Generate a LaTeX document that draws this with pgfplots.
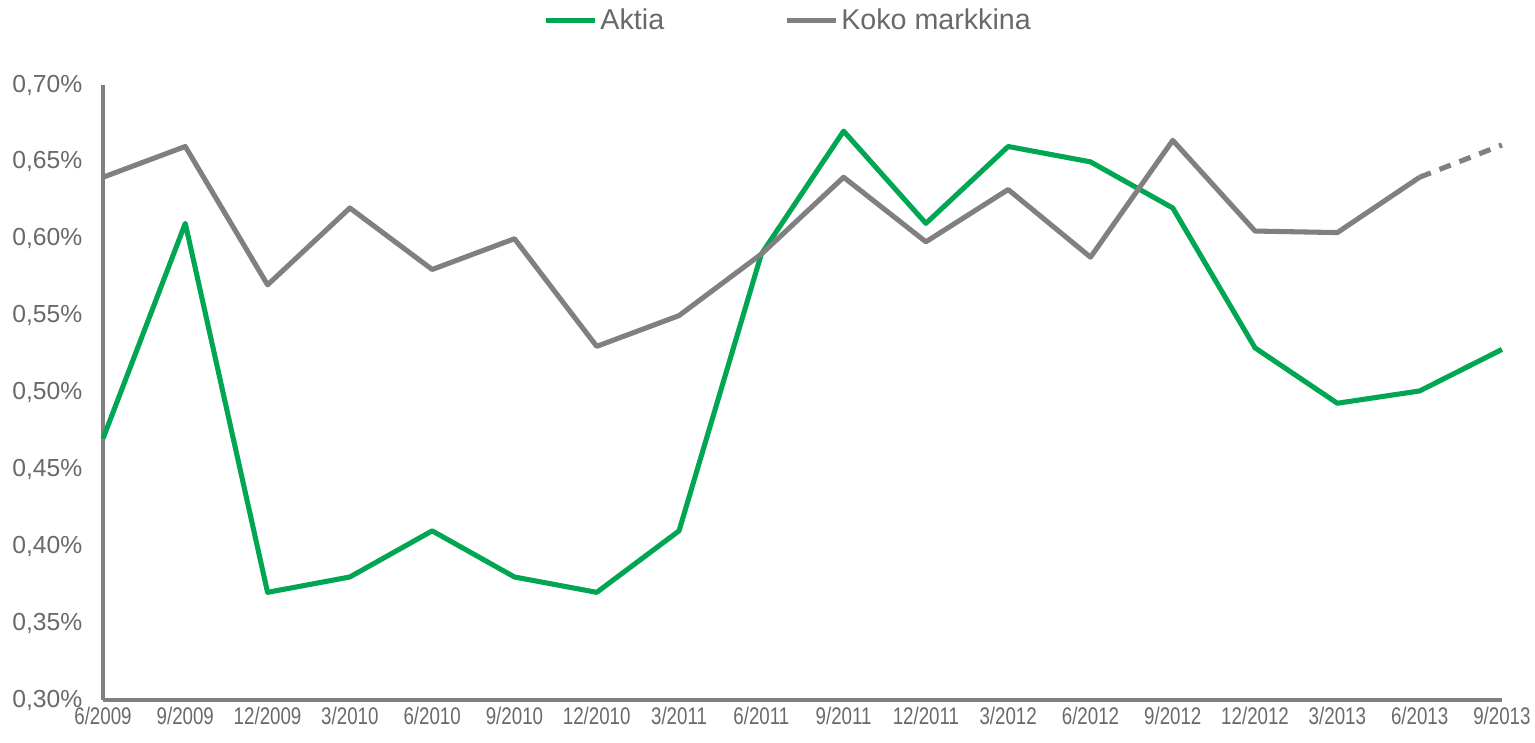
\documentclass[border=0pt]{standalone}
\usepackage{fontspec}
\setmainfont{Liberation Sans}
\usepackage{graphicx}
\usepackage{pgfplots}
\pgfplotsset{compat=1.18}

\definecolor{aktia}{RGB}{0,166,81}
\definecolor{market}{RGB}{128,128,128}
\definecolor{txt}{RGB}{105,105,105}

\newcommand{\xl}[1]{\scalebox{0.78}[1]{#1}}

\begin{document}
\begin{tikzpicture}
\begin{axis}[
    scale only axis,
    width=1049.25pt,
    height=461.25pt,
    xmin=0, xmax=17,
    ymin=0.30, ymax=0.70,
    axis x line*=bottom,
    axis y line*=left,
    axis line style={market, line width=2.4pt},
    major tick length=0pt,
    xtick={0,...,17},
    xticklabels={\xl{6/2009},\xl{9/2009},\xl{12/2009},\xl{3/2010},\xl{6/2010},\xl{9/2010},
        \xl{12/2010},\xl{3/2011},\xl{6/2011},\xl{9/2011},\xl{12/2011},\xl{3/2012},
        \xl{6/2012},\xl{9/2012},\xl{12/2012},\xl{3/2013},\xl{6/2013},\xl{9/2013}},
    ytick={0.30,0.35,0.40,0.45,0.50,0.55,0.60,0.65,0.70},
    yticklabels={{0,30\%},{0,35\%},{0,40\%},{0,45\%},{0,50\%},{0,55\%},{0,60\%},{0,65\%},{0,70\%}},
    xticklabel style={font=\fontsize{18}{21}\selectfont, text=txt, yshift=-2pt},
    yticklabel style={font=\fontsize{18.5}{22}\selectfont, text=txt, xshift=-12pt},
    clip=false,
    legend columns=2,
    legend style={
        at={(axis description cs:0.49,1.105)},
        anchor=center,
        draw=none,
        fill=none,
        font=\fontsize{21.5}{24}\selectfont,
        text=txt,
        /tikz/every even column/.append style={column sep=88pt},
        inner sep=0pt,
        nodes={inner sep=2pt},
    },
    legend image code/.code={\draw[#1] (0pt,0pt) -- (37pt,0pt);},
    every axis plot/.append style={line width=3.8pt, line join=round},
]

\addplot[aktia] coordinates {
    (0,0.470) (1,0.610) (2,0.370) (3,0.380) (4,0.410) (5,0.380)
    (6,0.370) (7,0.410) (8,0.590) (9,0.670) (10,0.610) (11,0.660)
    (12,0.650) (13,0.620) (14,0.529) (15,0.493) (16,0.501) (17,0.528)
};
\addlegendentry{Aktia}

\addplot[market] coordinates {
    (0,0.640) (1,0.660) (2,0.570) (3,0.620) (4,0.580) (5,0.600)
    (6,0.530) (7,0.550) (8,0.590) (9,0.640) (10,0.598) (11,0.632)
    (12,0.588) (13,0.664) (14,0.605) (15,0.604) (16,0.640)
};
\addlegendentry{Koko markkina}

\addplot[market, dash pattern=on 9pt off 7pt, forget plot] coordinates {
    (16,0.640) (17,0.661)
};

\path (rel axis cs:0,0) ++(-77.25pt,-32.25pt);
\path (rel axis cs:1,1) ++(24.75pt,63.75pt);
\end{axis}
\end{tikzpicture}
\end{document}
